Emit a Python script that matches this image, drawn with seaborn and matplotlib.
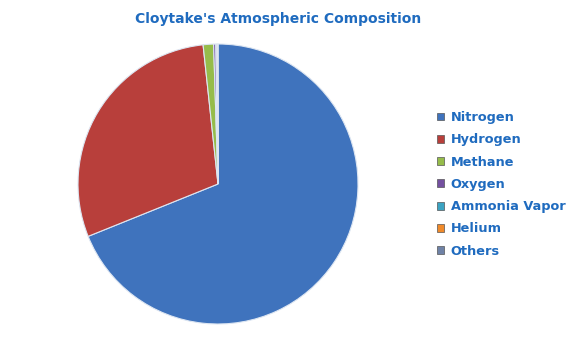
import matplotlib
matplotlib.use("Agg")
import matplotlib.pyplot as plt
import seaborn as sns

sns.set_theme(style="white")
plt.rcParams['font.family'] = ['DejaVu Sans']

title = "Cloytake's Atmospheric Composition"
gases = ["Nitrogen", "Hydrogen", "Methane", "Oxygen", "Ammonia Vapor", "Helium", "Others"]
shares = [68.9, 29.4, 1.2, 0.25, 0.1, 0.1, 0.05]
colors = ["#3F73BD", "#B83F3B", "#96BC4A", "#7450A0", "#3BA3C2", "#F08A2A", "#6F82A6"]

fig = plt.figure(figsize=(5.81, 3.41), dpi=100)
ax = fig.add_axes([78/581, 17/341, 280/581, 280/341])
wedges, _ = ax.pie(shares, colors=colors, startangle=90, counterclock=False,
                   radius=1.0, wedgeprops=dict(edgecolor="#DDE6F2", linewidth=0.8))
ax.set_xlim(-1.0, 1.0)
ax.set_ylim(-1.0, 1.0)
ax.set_aspect("equal")
ax.axis("off")

fig.text(278/581, 1 - 19/341, title, ha="center", va="center",
         fontsize=10, fontweight="bold", color="#1F6BBF")

leg = fig.legend(wedges, gases, loc="upper left", bbox_to_anchor=(437/581, 1 - 111/341),
                 frameon=False, handlelength=0.55, handleheight=0.55, handletextpad=0.5,
                 labelspacing=0.72, borderpad=0, borderaxespad=0,
                 prop=dict(size=9.3, weight="bold"))
for t in leg.get_texts():
    t.set_color("#1F6BBF")
for h in leg.legend_handles:
    h.set_edgecolor("#555555")
    h.set_linewidth(0.5)

fig.savefig("out.png", dpi=100)
